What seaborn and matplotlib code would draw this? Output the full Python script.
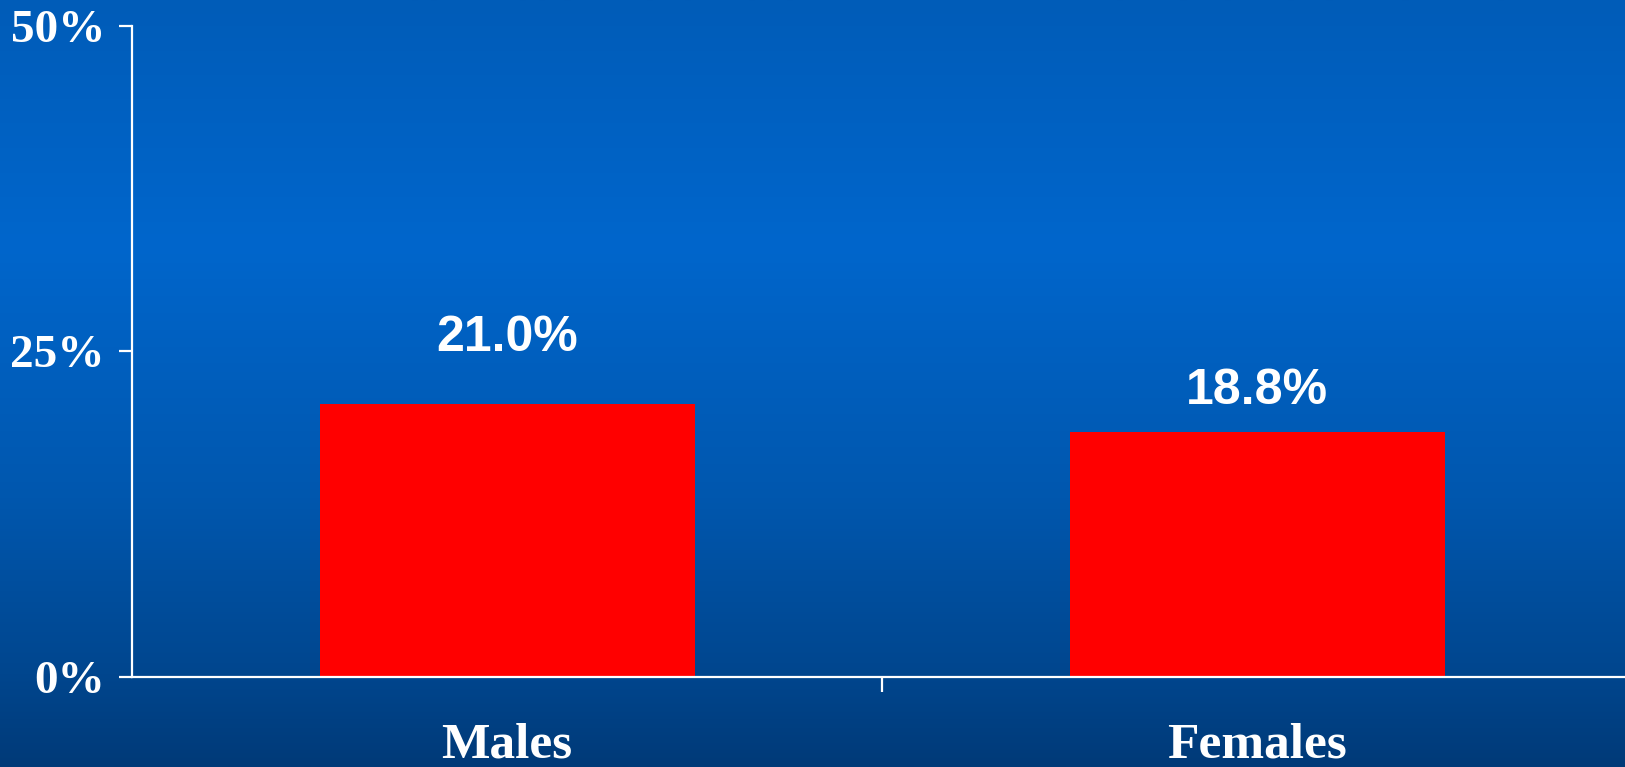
import matplotlib
matplotlib.use("Agg")
import matplotlib.pyplot as plt
from matplotlib.colors import LinearSegmentedColormap
import numpy as np
import pandas as pd
import seaborn as sns

groups = ["Males", "Females"]
share_pct = [21.0, 18.8]
y_ticks = [0, 25, 50]
y_tick_labels = ["0%", "25%", "50%"]

# vertical lift of each value label above its bar, in points
label_lift = [38, 20]

sns.set_style("ticks")
plt.rcParams["font.family"] = ["Liberation Serif", "DejaVu Serif"]

fig = plt.figure(figsize=(16.25, 7.67), dpi=100)

# slide-style blue gradient behind everything
bg = fig.add_axes([0, 0, 1, 1], zorder=-10)
grad_cmap = LinearSegmentedColormap.from_list(
    "slide",
    [(0.0, "#005CB8"), (0.32, "#0066CC"), (0.65, "#0057AE"), (0.88, "#00468E"), (1.0, "#003A78")],
)
bg.imshow(np.linspace(0, 1, 256).reshape(-1, 1), aspect="auto", cmap=grad_cmap,
          extent=[0, 1, 0, 1], origin="upper")
bg.set_axis_off()

ax = fig.add_axes([132 / 1625, 90 / 767, 1500 / 1625, 651 / 767])
ax.set_facecolor("none")

df = pd.DataFrame({"group": groups, "share": share_pct})
sns.barplot(data=df, x="group", y="share", color="#FF0000", saturation=1,
            width=0.5, ax=ax, edgecolor="none")

ax.set_xlim(-0.5, 1.5)
ax.set_ylim(0, 50)
ax.set_yticks(y_ticks, y_tick_labels)
ax.set_xlabel("")
ax.set_ylabel("")

for side in ("top", "right"):
    ax.spines[side].set_visible(False)
for side in ("left", "bottom"):
    ax.spines[side].set_color("white")
    ax.spines[side].set_linewidth(1.6)

ax.tick_params(axis="y", colors="white", length=9.5, width=1.6, pad=10,
               labelsize=34)
ax.tick_params(axis="x", which="major", length=0, pad=33, labelsize=37,
               labelcolor="white")
ax.set_xticks([0.5], minor=True)
ax.tick_params(axis="x", which="minor", length=11, width=1.6, color="white")
for lbl in ax.get_yticklabels() + ax.get_xticklabels():
    lbl.set_fontweight("bold")

for bar, val, lift in zip(ax.patches, share_pct, label_lift):
    ax.annotate(f"{val:.1f}%", (bar.get_x() + bar.get_width() / 2, bar.get_height()),
                xytext=(0, lift), textcoords="offset points", ha="center", va="baseline",
                color="white", fontsize=36, fontweight="bold",
                family=["Liberation Sans", "DejaVu Sans"])

fig.savefig("out.png", dpi=100)
